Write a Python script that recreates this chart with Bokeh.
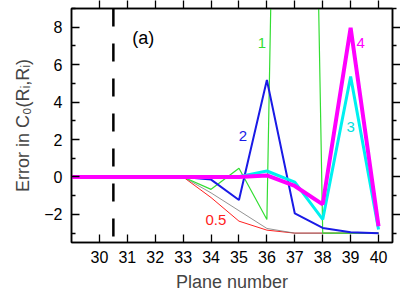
from bokeh.plotting import figure
from bokeh.models import LinearAxis, FixedTicker, Range1d, Span, CustomJSTickFormatter
from bokeh.core.properties import value
from bokeh.embed import file_html
from bokeh.resources import INLINE

planes = [29, 30, 31, 32, 33, 34, 35, 36, 37, 38, 39, 40]
err_05 = [0, 0, 0, 0, 0, -1.1, -2.36, -2.84, -3.0, -3.0, -3.0, -3.0]
err_gray = [0, 0, 0, 0, 0, -0.85, -1.8, -2.75, -3.0, -3.0, -3.0, -3.0]
err_1 = [0, 0, 0, 0, 0, -0.66, 0.47, -2.27, 80.0, -3.0, -3.0, -3.0]
err_2 = [0, 0, 0, 0, 0, -0.14, -1.23, 5.18, -1.95, -2.72, -2.95, -3.0]
err_3 = [0, 0, 0, 0, 0, 0, 0.02, 0.32, -0.27, -2.27, 5.36, -2.8]
err_4 = [0, 0, 0, 0, 0, 0, 0, 0.08, -0.48, -1.46, 7.97, -2.63]
boundary_plane = 30.5
x_ticks = [30, 31, 32, 33, 34, 35, 36, 37, 38, 39, 40]
y_ticks = [-2, 0, 2, 4, 6, 8]
y_minor = [-3, -1, 1, 3, 5, 7, 9]

FONT = "Liberation Sans"

p = figure(width=400, height=297, output_backend="svg", toolbar_location=None,
           x_range=Range1d(29, 40.5), y_range=Range1d(-3.5, 9),
           x_axis_label="Plane number", y_axis_label="Error in C\u2080(R\u1d62,R\u1d62)",
           min_border_left=71, min_border_right=0, min_border_top=0, min_border_bottom=55)
p.grid.visible = False
p.outline_line_color = "black"
p.outline_line_width = 1.5
p.background_fill_color = "white"
p.border_fill_color = "white"

def style_axis(ax, labels=True):
    ax.axis_line_width = 1.5
    ax.axis_line_color = "black"
    if labels:
        ax.major_tick_in = 8
        ax.major_tick_out = 0
        ax.minor_tick_in = 4
        ax.minor_tick_out = 0
    else:
        ax.major_tick_in = 0
        ax.major_tick_out = 8
        ax.minor_tick_in = 0
        ax.minor_tick_out = 4
    ax.major_tick_line_color = "black"
    ax.minor_tick_line_color = "black"
    ax.major_tick_line_width = 1.3
    ax.minor_tick_line_width = 1.3
    ax.major_label_text_font = FONT
    ax.axis_label_text_font = FONT
    ax.axis_label_text_font_size = "18px"
    ax.axis_label_text_font_style = "normal"
    ax.major_label_text_font_size = "16px"
    ax.major_label_text_color = "black"
    if not labels:
        ax.formatter = CustomJSTickFormatter(code="return ''")
        ax.major_label_standoff = 0

xt = FixedTicker(ticks=x_ticks)
yt = FixedTicker(ticks=y_ticks, minor_ticks=y_minor)
p.xaxis.ticker = xt
p.yaxis.ticker = yt
style_axis(p.xaxis[0])
style_axis(p.yaxis[0])
p.xaxis.major_label_standoff = 8
p.yaxis.major_label_standoff = 9
p.xaxis.axis_label_standoff = 6
p.yaxis.axis_label_standoff = 8

top = LinearAxis(ticker=FixedTicker(ticks=x_ticks))
style_axis(top, labels=False)
right = LinearAxis(ticker=FixedTicker(ticks=y_ticks, minor_ticks=y_minor))
style_axis(right, labels=False)
p.add_layout(top, "above")
p.add_layout(right, "right")

p.add_layout(Span(location=boundary_plane, dimension="height", line_color="black",
                  line_width=2.5, line_dash="18 17"))

p.line(planes, err_05, line_color="#ff2020", line_width=1)
p.line(planes, err_gray, line_color="#777777", line_width=0.8)
p.line(planes, err_1, line_color="#33dd33", line_width=1.2)
p.line(planes, err_2, line_color="#1a1ae6", line_width=2)
p.line(planes, err_3, line_color="#00f0f0", line_width=3)
p.line(planes, err_4, line_color="#ff00ff", line_width=4)

lab_x = [35.82, 35.14, 39.0, 39.36, 34.17]
lab_y = [7.18, 2.2, 2.68, 7.18, -2.3]
lab_t = ["1", "2", "3", "4", "0.5"]
lab_c = ["#33dd33", "#1a1ae6", "#00e0e0", "#ff00ff", "#ff2020"]
p.text(x=lab_x, y=lab_y, text=lab_t, text_color=lab_c, text_font=value(FONT),
       text_font_size="15px", text_align="center", text_baseline="middle")
p.text(x=[31.57], y=[7.4], text=["(a)"], text_color="black", text_font=value(FONT),
       text_font_size="18px", text_align="center", text_baseline="middle")

open("out.html", "w").write(file_html(p, INLINE))
